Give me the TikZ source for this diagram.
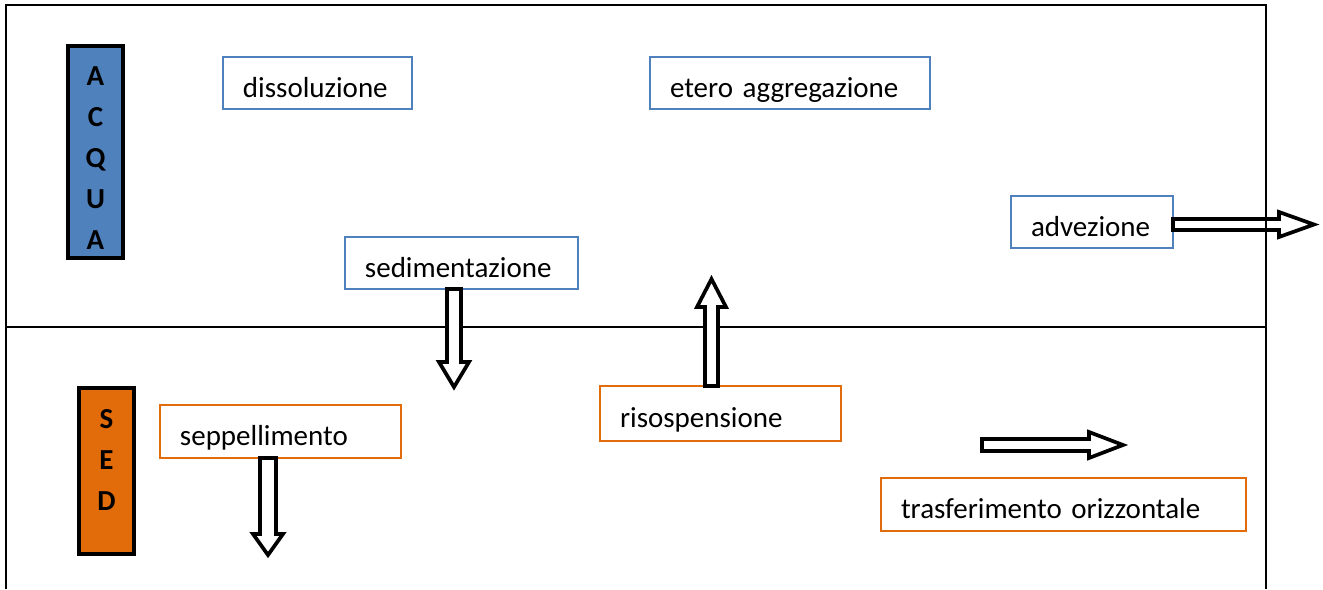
\documentclass[tikz,border=0pt]{standalone}
\usepackage{fontspec}
\setmainfont{Carlito}
\definecolor{acquablue}{HTML}{4F81BD}
\definecolor{sedorange}{HTML}{E36C0A}
\tikzset{
  tbox/.style={draw=acquablue, line width=0.8pt, fill=white, anchor=north west, outer sep=0pt,
    inner xsep=0.4cm, inner ysep=0pt, minimum height=1.04cm, align=left, text width=#1,
    text height=0.68cm, text depth=0.1cm, font=\fontsize{16.5}{19}\selectfont},
  sbox/.style={tbox=#1, draw=sedorange, line width=1.1pt},
  tagbox/.style={draw=black, line width=2.3pt, minimum width=1.1cm, outer sep=0pt},
  tagtext/.style={align=center, font=\fontsize{16.5}{23.3}\selectfont\bfseries},
  blockarrow/.style={draw=black, fill=white, line width=2.1pt, line join=miter},
  frame/.style={line width=0.8pt}
}
\begin{document}
\begin{tikzpicture}[x=0.02cm, y=-0.02cm]
	%%%%% START %%%%%
	\useasboundingbox (0,0) rectangle (1323,589);
	
	\draw[frame] (6,327) -- (1266,327);
	
	\node[tagbox, fill=acquablue, minimum height=4.24cm] (acqua) at (95.5,152) {};
	\node[tagtext] at (95.5,158) {A\\C\\Q\\U\\A};
	\node[tagbox, fill=sedorange, minimum height=3.32cm] (sed) at (106.5,471) {};
	\node[tagtext] at (106.5,460) {S\\E\\D};
	
	\node[tbox=2.98cm] (dissol) at (223,57) {dissoluzione};
	\node[tbox=4.8cm] (etero) at (650,57) {etero aggregazione};
	\node[tbox=2.44cm] (advez) at (1011,196) {advezione};
	\node[tbox=3.86cm] (sedim) at (345,237) {sedimentazione};
	\node[sbox=4.02cm, minimum height=1.1cm] (risosp) at (600,386) {risospensione};
	\node[sbox=4.02cm, minimum height=1.06cm] (seppel) at (160,405) {seppellimento};
	\node[sbox=6.5cm, minimum height=1.06cm] (trasf) at (881,478) {trasferimento orizzontale};
	
	\draw[blockarrow] (447,289) -- (447,362) -- (439,362) -- (454,387) -- (469,362) -- (461,362) -- (461,289) -- cycle;
	\draw[blockarrow] (705,386) -- (705,307) -- (697,307) -- (711.5,279) -- (726,307) -- (718,307) -- (718,386) -- cycle;
	\draw[blockarrow] (1173,219) -- (1279,219) -- (1279,212) -- (1314,224.5) -- (1279,237) -- (1279,230) -- (1173,230) -- cycle;
	\draw[blockarrow] (982,439) -- (1089,439) -- (1089,432) -- (1123,445) -- (1089,458) -- (1089,451) -- (982,451) -- cycle;
	\draw[blockarrow] (260,458) -- (260,534) -- (253,534) -- (268,555) -- (283,534) -- (276,534) -- (276,458) -- cycle;
	
	\draw[frame] (6,589) -- (6,5) -- (1266,5) -- (1266,589);
	%%%%% END %%%%%
\end{tikzpicture}
\end{document}
